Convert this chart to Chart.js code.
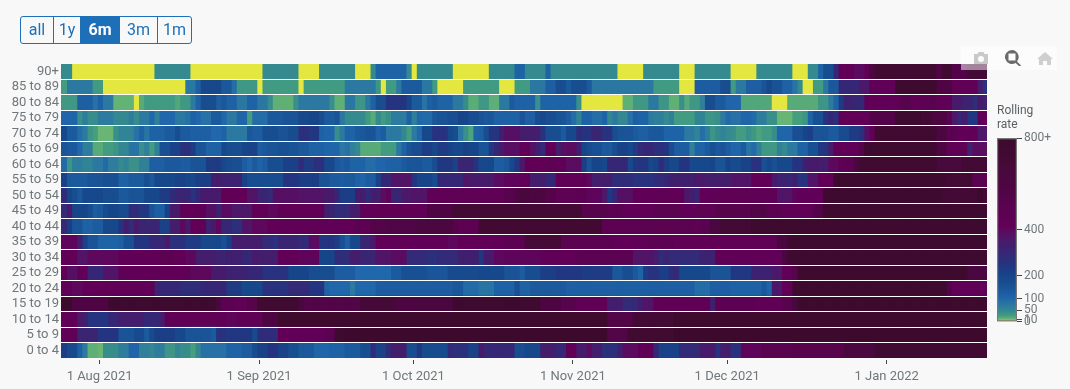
<!DOCTYPE html>
<html><head><meta charset="utf-8">
<script src="https://cdn.jsdelivr.net/npm/chart.js@4"></script>
<style>
html,body{margin:0;padding:0;background:#f8f8f8;width:1070px;height:389px;overflow:hidden;font-family:Roboto,sans-serif}
canvas{position:absolute;display:block}
#btns{position:absolute;left:20px;top:16px;height:26px;display:flex;border:1px solid #1d70b8;border-radius:3px;overflow:hidden;background:#f8f8f8;color:#1d70b8;font-size:16px;line-height:26px;text-align:center}
#btns div{border-right:1px solid #1d70b8;box-sizing:border-box}
#btns div:last-child{border-right:0}
#btns .on{background:#1d70b8;color:#fff;font-weight:700}
#mode{position:absolute;left:961px;top:46px;width:96px;height:24px;background:rgba(255,255,255,.5)}
#mode svg{position:absolute;top:4px}
#ttl{position:absolute;left:997px;top:103px;font-size:12px;line-height:14px;color:#5a5f63}
</style></head><body>
<canvas id="map" width="1070" height="389" style="left:0;top:0"></canvas>
<canvas id="bar" width="80" height="206" style="left:990px;top:125px"></canvas>
<div id="btns"><div style="width:33px">all</div><div style="width:27px">1y</div><div class="on" style="width:39px">6m</div><div style="width:38px">3m</div><div style="width:33px">1m</div></div>
<div id="mode">
<svg style="left:12px" width="16" height="16" viewBox="0 0 16 16"><path fill="#c9c9c9" d="M1 4h3.5l1-2h5l1 2H15v10H1zM8 6a3 3 0 1 0 0 6 3 3 0 0 0 0-6z"/></svg>
<svg style="left:44px" width="16" height="16" viewBox="0 0 16 16"><path fill="#6b6b6b" fill-rule="evenodd" d="M7 0a7 7 0 0 1 5 11.5l4 4-1.2 1.2-4.2-3.7A7 7 0 1 1 7 0zm-3.5 3.5v7h7v-7z"/></svg>
<svg style="left:76px" width="16" height="16" viewBox="0 0 16 16"><path fill="#cfcfcf" d="M8 2l8 7h-2v6h-4v-4H6v4H2V9H0z"/></svg>
</div>
<div id="ttl">Rolling<br>rate</div>
<script>
const ageBands=["90+","85 to 89","80 to 84","75 to 79","70 to 74","65 to 69","60 to 64","55 to 59","50 to 54","45 to 49","40 to 44","35 to 39","30 to 34","25 to 29","20 to 24","15 to 19","10 to 14","5 to 9","0 to 4"];
const tickDays=[7,38,68,99,129,160];
const tickLabels=["1 Aug 2021","1 Sep 2021","1 Oct 2021","1 Nov 2021","1 Dec 2021","1 Jan 2022"];
const scaleTicks=[0,10,50,100,200,400,800];
const age90=[45,45,0,0,0,0,0,0,0,0,0,0,0,0,0,0,0,0,45,45,45,45,45,45,45,0,0,0,0,0,
0,0,0,0,0,0,0,0,0,45,45,45,45,45,45,45,0,0,0,0,45,45,45,45,45,45,45,0,0,0,
45,110,110,110,110,110,110,45,0,45,45,45,45,45,45,45,0,0,0,0,0,0,0,45,45,45,45,45,110,110,
45,45,45,45,110,45,45,45,45,45,45,45,45,45,45,45,45,45,0,0,0,0,0,45,45,45,45,45,45,45,
0,0,0,45,45,45,45,45,45,45,0,0,0,0,0,45,45,45,45,45,45,45,0,0,0,45,45,110,170,170,
300,420,420,420,395,395,450,600,750,750,750,750,750,750,750,750,750,750,750,750,550,750,750,550,550,550,700,700,700,700];
const age85=[28,72,72,72,72,72,30,30,0,0,0,0,0,0,0,0,0,0,0,0,0,0,0,0,75,75,120,190,190,190,
190,140,140,90,33,33,33,33,0,30,30,30,30,30,30,30,0,30,30,30,30,30,30,30,30,72,72,72,72,72,
72,35,0,30,30,70,130,130,130,130,75,75,30,0,0,0,0,0,30,30,30,30,30,30,30,0,0,0,30,30,
30,75,75,75,120,120,170,170,130,170,170,170,130,75,75,75,75,75,75,75,75,75,75,75,75,30,30,30,30,30,
0,0,0,125,125,125,125,125,170,170,30,72,72,120,120,120,150,190,155,155,115,115,80,45,0,0,30,30,75,140,
140,300,300,300,300,360,360,430,430,430,430,430,760,760,760,760,760,760,760,760,580,580,580,440,440,430,430,430,340,270];
const age80=[32,32,32,120,120,120,85,115,72,72,14,14,14,14,0,18,30,30,30,30,30,30,20,32,32,70,115,170,170,170,
120,140,115,115,75,75,110,110,75,75,42,15,15,15,15,40,72,72,72,72,72,72,40,15,15,75,75,35,35,75,
115,170,170,250,250,250,250,200,130,130,80,120,130,110,110,110,72,72,42,17,17,33,33,16,16,72,72,130,115,115,
115,115,40,110,110,110,110,110,110,110,40,0,0,0,0,0,0,0,0,15,15,32,32,32,72,72,35,35,15,15,
40,18,32,32,60,170,170,130,130,105,105,105,20,20,20,20,20,20,0,0,0,18,18,18,18,18,18,35,35,70,
110,230,320,320,300,300,430,430,430,430,430,430,430,520,520,440,440,480,480,520,430,430,430,350,350,320,320,280,350,320];
const age75=[105,105,105,40,65,42,42,68,68,68,48,48,48,65,42,70,70,100,60,100,100,100,72,72,85,115,100,85,85,130,
130,100,72,72,105,105,25,90,90,90,135,135,135,150,150,150,185,185,200,200,170,130,130,150,75,45,45,45,45,30,
18,45,30,40,68,68,68,115,60,100,95,95,140,150,150,165,165,200,200,170,170,150,140,140,115,115,115,115,115,150,
120,120,170,185,165,165,150,150,125,90,55,110,110,90,90,110,50,70,48,48,85,120,110,110,70,62,62,45,60,28,
28,28,28,55,55,35,35,40,70,95,85,85,105,105,95,65,65,40,40,12,12,12,25,25,35,110,160,160,260,300,
270,420,420,420,420,420,420,550,550,550,550,550,760,760,760,760,760,700,700,600,600,600,500,360,300,340,240,240,430,430];
const age70=[190,130,130,90,70,35,25,12,12,12,40,55,55,55,85,115,80,115,115,115,130,130,170,130,130,120,120,120,120,100,
100,110,72,72,72,72,140,125,125,170,170,170,155,155,175,175,270,270,240,240,115,105,105,42,72,110,110,130,140,150,
150,110,125,72,72,72,50,28,70,100,190,190,260,260,260,190,170,75,40,22,110,120,170,250,250,340,380,380,380,340,
340,340,340,260,170,170,170,130,190,190,280,260,260,310,310,260,260,170,150,150,150,130,120,120,140,140,140,110,110,110,
110,72,72,55,90,65,35,45,55,45,42,28,28,40,32,22,30,30,42,105,105,105,165,165,200,215,150,150,150,130,
130,175,175,230,230,270,380,420,750,750,750,750,750,750,750,750,750,750,750,750,620,620,500,500,430,430,430,430,360,360];
const age65=[150,135,135,100,65,65,18,18,28,28,35,50,50,80,80,40,60,28,60,160,160,210,210,270,270,230,150,150,115,115,
115,190,170,170,170,200,210,210,125,140,150,150,160,160,150,150,135,135,115,115,115,105,105,105,72,85,60,48,18,18,
18,18,28,28,28,75,110,150,170,170,220,220,190,230,230,210,190,190,215,200,200,150,150,240,300,350,385,385,385,420,
420,380,330,290,420,420,340,380,390,390,340,200,175,160,160,135,135,170,210,210,190,230,290,300,300,270,270,250,170,125,
125,125,60,110,110,130,160,140,150,125,105,105,130,80,95,60,32,32,32,60,45,70,70,110,110,160,160,240,260,340,
430,430,430,430,430,560,770,770,770,770,770,770,770,770,770,770,770,770,770,770,600,600,450,450,450,450,320,390,390,390];
const age60=[95,35,65,65,55,55,72,72,95,65,65,45,55,38,38,60,60,120,120,120,135,135,135,125,125,150,150,150,230,230,
230,190,175,165,165,125,105,130,110,125,170,170,170,215,215,215,280,230,230,270,270,190,190,140,125,135,110,110,110,90,
90,105,105,115,115,115,130,145,145,145,130,130,170,240,240,240,210,310,310,310,250,190,190,190,125,125,140,190,240,360,
420,420,420,420,460,460,430,430,390,390,390,220,150,200,200,190,300,300,300,300,190,240,250,250,190,210,280,220,190,190,
250,250,190,190,190,190,200,150,150,200,180,180,210,210,260,260,160,190,160,190,190,190,250,250,330,350,350,340,340,400,
400,440,480,480,620,750,750,750,750,750,750,750,750,750,750,750,750,750,750,750,650,650,650,650,650,720,720,720,720,720];
const age55=[210,130,130,130,130,150,150,150,160,160,160,115,115,130,130,130,165,140,190,190,190,190,210,210,190,190,220,220,220,340,
340,320,320,320,320,210,170,170,170,170,170,170,170,250,250,250,220,220,220,220,150,150,130,130,125,130,130,115,105,125,
125,210,300,300,370,370,370,370,250,200,200,200,170,300,300,300,300,300,370,350,350,350,350,350,390,390,410,410,410,420,
420,340,340,340,300,300,430,430,430,430,430,430,400,340,340,340,340,280,280,280,280,260,260,260,260,280,290,300,330,330,
330,330,330,360,360,340,340,340,340,340,370,370,370,370,420,420,420,420,350,320,320,300,330,260,260,370,370,420,420,420,
760,760,760,760,760,760,760,760,760,760,760,760,760,760,760,760,760,760,760,760,760,760,720,720,720,720,720,500,500,500];
const age50=[280,200,170,140,190,190,190,190,170,170,170,135,135,150,150,150,190,190,190,230,230,280,310,310,310,260,300,350,350,350,
350,440,440,440,420,420,370,370,310,310,290,380,380,380,380,380,370,370,370,370,370,350,350,300,220,220,220,340,340,280,
340,340,390,410,310,310,360,360,370,370,370,430,450,450,450,450,450,450,450,450,450,450,450,450,450,450,520,520,600,640,
640,610,610,610,540,540,460,460,460,460,480,480,410,410,410,360,240,300,380,380,380,420,420,420,420,440,440,440,440,440,
440,360,340,310,430,430,450,450,450,450,450,450,450,450,450,450,450,450,450,370,370,370,410,430,430,430,430,430,770,770,
770,770,770,770,770,770,770,770,770,770,770,770,770,770,770,770,770,770,770,770,770,700,700,700,700,700,700,700,800,720];
const age45=[290,350,200,200,200,170,125,140,180,200,200,180,180,280,280,240,240,150,120,120,210,350,350,430,430,430,430,450,380,380,
320,390,390,360,360,360,360,430,430,430,400,400,440,440,440,440,440,440,440,440,440,330,310,280,290,290,340,340,430,430,
430,440,440,440,440,440,440,440,440,450,450,580,580,580,580,580,720,720,720,720,720,720,720,720,720,720,720,720,720,720,
720,720,720,720,720,720,720,720,720,720,720,520,520,520,520,520,480,480,480,430,430,420,420,420,420,500,500,500,500,500,
430,430,430,460,460,460,460,520,520,520,520,520,520,520,560,560,560,480,480,480,440,440,440,440,440,440,550,550,760,760,
760,760,760,760,760,760,760,760,760,760,760,760,760,760,760,760,760,760,760,760,760,760,760,760,760,760,760,760,760,760];
const age40=[290,220,150,150,115,115,125,125,190,190,190,250,340,280,350,310,310,310,310,210,210,340,340,400,350,420,420,420,320,360,
400,300,300,270,270,370,370,400,400,400,430,430,430,430,430,430,430,430,430,430,430,430,430,430,430,430,430,470,470,470,
540,540,540,570,570,570,570,570,570,620,620,620,620,620,620,620,520,470,470,470,470,730,730,730,730,730,730,730,730,730,
730,730,730,730,730,730,730,730,730,730,730,730,730,730,730,470,470,470,470,470,470,490,490,490,490,490,490,490,490,490,
490,490,490,430,500,500,620,620,720,720,700,700,700,700,770,770,770,770,770,770,770,770,770,770,770,770,770,770,770,770,
770,770,770,770,770,770,770,770,770,770,770,770,770,770,770,770,770,770,770,770,770,770,770,770,770,770,770,770,770,770];
const age35=[410,410,410,340,210,150,150,110,110,110,110,120,160,160,250,250,250,300,300,300,360,270,270,270,230,230,230,190,190,190,
190,160,220,340,340,340,340,340,340,290,290,260,310,310,310,310,290,290,390,390,250,250,250,230,160,120,190,190,310,310,
360,420,420,430,430,430,430,430,430,430,430,430,430,430,430,400,400,430,430,430,430,430,430,430,430,430,480,480,480,480,
680,680,680,680,680,680,680,500,500,500,500,500,500,500,500,500,500,430,430,430,430,430,430,430,470,470,470,470,470,440,
440,440,440,440,440,440,440,440,440,440,440,440,440,440,440,440,440,440,440,620,620,770,770,770,770,770,770,770,770,770,
770,770,770,770,770,770,770,770,770,770,770,770,770,770,770,770,770,770,770,770,770,770,770,770,770,770,770,770,770,770];
const age30=[430,430,420,370,370,400,400,400,400,400,400,430,430,430,430,430,430,430,430,470,470,470,440,440,400,400,340,340,340,340,
320,320,330,330,330,300,300,350,340,340,340,340,420,420,420,420,410,410,410,410,200,200,200,280,280,280,340,340,310,310,
310,370,370,370,390,390,390,290,290,290,290,270,270,290,290,290,290,330,330,330,330,240,350,350,400,400,410,410,410,410,
410,410,410,430,430,430,430,420,420,420,480,480,480,480,480,480,480,480,480,480,480,370,370,370,370,340,290,310,290,290,
290,290,290,290,320,320,320,430,430,430,430,430,430,430,430,430,430,430,430,430,600,770,770,770,770,770,770,770,770,770,
770,770,770,770,770,770,770,770,770,770,770,770,770,770,770,770,770,770,770,770,770,770,770,770,770,770,770,770,770,770];
const age25=[420,380,380,420,420,300,300,300,370,370,370,430,430,430,430,430,430,430,430,430,430,430,430,430,460,400,400,400,400,350,
350,350,320,320,320,320,300,300,300,260,260,260,260,260,200,200,200,200,170,170,170,170,170,125,125,125,125,100,100,100,
100,100,100,100,130,130,160,160,160,160,160,145,145,145,145,180,180,180,180,180,180,190,190,190,190,190,150,150,150,125,
170,170,170,220,220,220,240,240,240,240,240,230,230,230,230,230,230,140,140,170,170,135,110,230,260,260,220,220,290,290,
190,190,190,190,190,190,150,150,150,150,240,240,240,240,320,320,320,320,360,360,430,430,530,780,780,780,780,780,780,780,
780,780,780,780,780,780,780,780,780,780,780,780,780,780,780,780,780,780,780,780,780,780,780,780,780,780,620,620,620,620];
const age20=[430,430,400,400,420,420,420,420,420,420,420,420,420,420,430,430,430,430,320,300,300,300,300,280,280,280,280,300,300,300,
300,300,230,230,230,190,190,190,190,260,260,260,260,260,290,290,290,290,250,250,250,110,100,100,100,100,70,100,100,100,
100,125,125,125,125,125,125,125,125,125,125,125,125,125,125,125,140,140,95,95,95,80,80,80,115,115,115,115,160,115,
115,130,130,130,130,130,130,130,120,120,120,120,120,120,120,120,120,120,120,120,120,120,120,120,120,120,120,120,120,120,
120,120,120,90,90,90,120,120,120,120,115,115,115,115,115,115,140,110,360,360,430,430,760,760,760,760,760,760,760,760,
760,760,760,760,760,760,760,760,760,760,760,760,760,760,760,760,760,760,760,760,760,760,550,430,430,430,430,430,430,430];
const age15=[800,800,580,580,580,580,580,580,580,760,760,760,760,760,760,760,760,760,760,760,760,760,760,760,760,760,760,760,760,760,
620,480,480,480,440,440,530,530,750,750,750,750,750,750,750,750,620,560,560,560,560,560,560,560,560,560,560,560,680,680,
680,680,680,680,680,590,590,590,620,620,620,620,620,620,620,620,760,760,760,760,760,760,760,760,760,760,760,760,760,760,
760,760,760,600,600,600,600,520,520,520,440,440,440,440,440,440,340,340,340,290,290,290,340,370,370,440,440,440,440,440,
440,440,440,440,440,440,330,470,470,470,470,470,470,470,470,440,440,440,440,440,520,520,650,780,780,780,780,780,780,780,
780,780,780,780,780,780,780,780,780,780,780,780,780,780,780,780,780,780,780,780,780,780,780,780,780,780,780,780,780,780];
const age10=[430,430,430,360,330,250,250,250,250,300,300,340,340,340,340,340,300,300,300,340,440,440,440,440,440,440,440,440,440,440,
440,440,410,410,450,450,450,450,450,600,600,600,780,780,780,780,780,780,780,780,780,780,780,780,780,780,780,780,780,780,
780,780,780,780,780,780,780,780,780,780,780,780,780,780,780,780,780,780,780,780,780,780,780,780,780,780,780,780,780,780,
780,780,780,780,780,780,780,780,780,780,780,780,780,780,780,780,560,560,560,560,560,720,720,720,720,720,720,720,720,780,
780,780,780,780,780,780,780,780,780,780,780,780,780,780,780,780,780,780,780,780,780,780,780,780,780,780,780,780,780,780,
780,780,780,780,780,780,780,780,780,780,780,780,780,780,780,780,780,780,780,780,780,780,780,780,780,780,780,780,780,780];
const age5=[420,420,420,310,310,310,310,250,250,250,250,150,150,150,180,180,130,180,220,220,220,220,190,190,150,150,150,150,150,130,
260,260,240,240,240,240,240,180,280,280,280,280,420,420,430,430,430,430,430,430,430,480,480,760,760,790,790,790,790,790,
790,790,790,790,790,790,790,790,790,790,790,790,790,790,790,790,790,790,790,790,790,790,790,790,790,790,790,790,790,790,
790,790,790,790,790,790,790,790,790,790,790,790,790,790,790,790,560,560,560,560,750,750,750,750,750,750,750,750,750,790,
790,790,790,790,790,790,790,790,790,790,790,790,790,790,790,790,790,790,790,790,790,790,790,790,790,790,790,790,790,790,
790,790,790,790,790,790,790,790,790,790,790,790,790,790,790,790,790,790,790,790,790,790,790,790,790,790,790,790,790,790];
const age0=[220,180,180,115,70,15,15,12,42,42,42,65,65,105,105,60,60,50,65,65,35,35,50,42,42,25,50,85,85,85,
85,85,110,110,110,125,125,170,210,210,250,250,210,210,170,170,135,135,135,105,105,105,115,115,115,130,130,130,170,170,
280,210,210,290,340,340,340,170,170,240,180,180,180,180,180,290,270,270,270,210,210,350,300,300,300,300,300,300,170,170,
190,190,190,340,340,340,300,300,430,430,350,350,390,340,340,270,270,270,330,390,390,390,430,430,430,300,210,210,210,210,
290,290,290,290,350,350,350,260,340,340,270,270,410,410,410,410,500,500,500,500,500,500,520,520,520,520,520,520,520,520,
520,520,620,620,620,620,620,620,740,740,740,740,740,740,740,740,740,740,740,740,740,740,740,740,740,740,740,740,740,740];

const rates=[age90,age85,age80,age75,age70,age65,age60,age55,age50,age45,age40,age35,age30,age25,age20,age15,age10,age5,age0];
const stops=[[0,"#e3e740"],[5,"#a9d058"],[12,"#68b574"],[25,"#459f7e"],[45,"#358a8f"],[70,"#2c7aa0"],[100,"#2167ab"],[130,"#1c5a9e"],[170,"#184d90"],[200,"#17458a"],[250,"#243480"],[290,"#332a78"],[330,"#401f6e"],[360,"#4c186a"],[390,"#5a0c60"],[420,"#620058"],[500,"#5a0350"],[580,"#4f0544"],[680,"#450a38"],[780,"#3e0a2e"],[800,"#3c0a2c"]];
const rgb=h=>[1,3,5].map(i=>parseInt(h.substr(i,2),16));
function colour(v){
  for(let i=1;i<stops.length;i++){
    if(v<=stops[i][0]){
      const t=(v-stops[i-1][0])/(stops[i][0]-stops[i-1][0]),a=rgb(stops[i-1][1]),b=rgb(stops[i][1]);
      return "rgb("+a.map((x,k)=>Math.round(x+(b[k]-x)*t)).join(",")+")";
    }
  }
  return stops[stops.length-1][1];
}
const grey="#6f777b", font={family:"Roboto, sans-serif",size:13};
const columns=rates[0].map((_,c)=>c);
new Chart(document.getElementById("map"),{
  type:"bar",
  data:{labels:ageBands,datasets:columns.map(c=>({
    data:ageBands.map(()=>[c-.5,c+.6]),
    backgroundColor:rates.map(r=>colour(r[c])),
    grouped:false,barPercentage:1,categoryPercentage:1,borderWidth:0,borderSkipped:false
  }))},
  plugins:[{id:"rowGaps",afterDatasetsDraw(ch){
    const a=ch.chartArea,s=ch.scales.y,g=ch.ctx;
    g.save();g.fillStyle="#fff";
    for(let i=1;i<ageBands.length;i++){
      const y=Math.floor((s.getPixelForTick(i-1)+s.getPixelForTick(i))/2);
      g.fillRect(a.left,y,a.width,1);
    }
    g.restore();
  }}],
  options:{
    indexAxis:"y",responsive:false,animation:false,events:[],
    layout:{padding:{top:64,right:83,left:0,bottom:0}},
    plugins:{legend:{display:false},tooltip:{enabled:false}},
    scales:{
      y:{type:"category",afterFit(s){s.width=61;},border:{display:false},grid:{display:false,drawTicks:false},
         ticks:{color:grey,font,padding:2,autoSkip:false}},
      x:{type:"linear",min:-.5,max:179.5,afterFit(s){s.height=31;},
         afterBuildTicks(s){s.ticks=tickDays.map(v=>({value:v}));},
         border:{display:false},
         grid:{drawOnChartArea:false,tickLength:6,tickColor:"#444",tickBorderDash:[0,2,4.5,100]},
         ticks:{color:grey,font,padding:5,autoSkip:false,maxRotation:0,callback:v=>tickLabels[tickDays.indexOf(v)]}}
    }
  }
});
new Chart(document.getElementById("bar"),{
  type:"bar",
  data:{labels:["rate"],datasets:[{data:[[0,800]],barPercentage:1,categoryPercentage:1,borderWidth:1.5,borderColor:"#777",borderSkipped:false,
    backgroundColor(ctx){
      const ch=ctx.chart,a=ch.chartArea;if(!a)return "#000";
      const g=ch.ctx.createLinearGradient(0,a.bottom,0,a.top);
      stops.forEach(s=>g.addColorStop(s[0]/800,s[1]));return g;
    }}]},
  options:{
    responsive:false,animation:false,events:[],
    layout:{padding:{top:13,left:7,right:0,bottom:0}},
    plugins:{legend:{display:false},tooltip:{enabled:false}},
    scales:{
      x:{display:false},
      y:{position:"right",min:0,max:800,afterFit(s){s.width=53;},
         afterBuildTicks(s){s.ticks=scaleTicks.map(v=>({value:v}));},
         border:{display:false},grid:{drawOnChartArea:false,tickLength:5,tickColor:"#444"},
         ticks:{color:grey,font:{family:"Roboto, sans-serif",size:12},padding:2,autoSkip:false,callback:v=>v===800?"800+":v}}
    }
  }
});
</script></body></html>
